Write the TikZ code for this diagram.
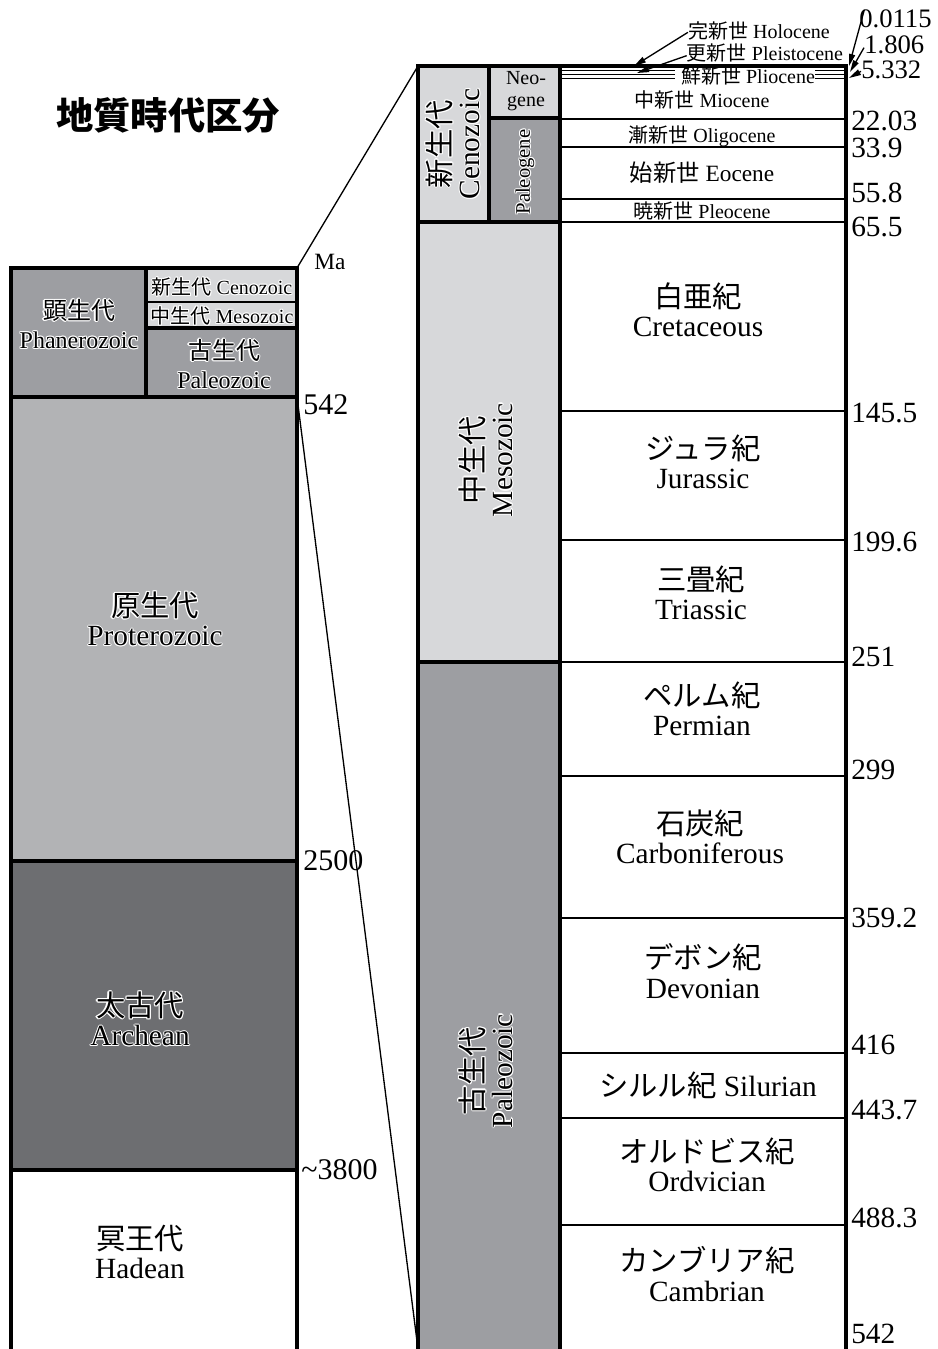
\documentclass[tikz,border=0pt]{standalone}
\usepackage{fontspec}
\setmainfont{Liberation Serif}
\newfontfamily\cjk{Noto Sans CJK JP}
\usetikzlibrary{arrows.meta}
\definecolor{lightg}{HTML}{D7D8DA}
\definecolor{midg}{HTML}{9D9EA2}
\definecolor{protg}{HTML}{B2B3B5}
\definecolor{darkg}{HTML}{6D6E71}
\newcommand\J[1]{{\cjk #1}}
\newcommand\fs[2]{\fontsize{#1}{#2}\selectfont}
\newcommand\halotext[1]{{\setbox0\hbox{#1}%
 \rlap{\color{white}\kern.8pt\copy0}\rlap{\color{white}\kern-.8pt\copy0}%
 \rlap{\color{white}\raise.8pt\copy0}\rlap{\color{white}\lower.8pt\copy0}%
 \rlap{\color{white}\kern.55pt\raise.55pt\copy0}\rlap{\color{white}\kern-.55pt\raise.55pt\copy0}%
 \rlap{\color{white}\kern.55pt\lower.55pt\copy0}\rlap{\color{white}\kern-.55pt\lower.55pt\copy0}%
 \box0}}
\begin{document}
\begin{tikzpicture}[x=0.75pt,y=-0.75pt,
  bord/.style={line width=2.6pt},
  sepline/.style={line width=1pt},
  zoomline/.style={line width=1pt},
  lbl/.style={align=center,inner sep=0pt},
  big/.style={lbl,font=\fs{22}{22}},
  small/.style={lbl,font=\fs{15}{16}},
  num/.style={anchor=west,inner sep=0pt,font=\fs{22}{22}},
  snum/.style={anchor=west,inner sep=0pt,font=\fs{20}{20}},
  arr/.style={line width=1pt,-{Triangle[length=9pt,width=4.5pt]}},
]
\useasboundingbox (0,0) rectangle (938,1349);
\clip (0,0) rectangle (938,1349);
% ---------- title
\node[lbl,font=\cjk\bfseries\fs{28}{28}] (title) at (168,115) {地質時代区分};
% ---------- left column fills
\fill[midg] (11,268) rectangle (146,397);
\fill[lightg] (146,268) rectangle (297,302);
\fill[lightg] (146,302) rectangle (297,328);
\fill[midg] (146,328) rectangle (297,397);
\fill[protg] (11,397) rectangle (297,861);
\fill[darkg] (11,861) rectangle (297,1170);
\fill[white] (11,1170) rectangle (297,1355);
\draw[sepline] (146,302) -- (297,302);
\draw[bord] (11,268) rectangle (297,1355);
\draw[bord] (146,268) -- (146,397);
\draw[bord] (146,328) -- (297,328);
\draw[bord] (11,397) -- (297,397);
\draw[bord] (11,861) -- (297,861);
\draw[bord] (11,1170) -- (297,1170);
% left labels
\node[lbl,font=\fs{18}{22}] (phan) at (79,324) {\halotext{\J{顕生代}}\\\halotext{Phanerozoic}};
\node[small] (lceno) at (222,287) {\halotext{\J{新生代} Cenozoic}};
\node[small] (lmeso) at (222,316) {\halotext{\J{中生代} Mesozoic}};
\node[lbl,font=\fs{18}{22}] (lpaleo) at (224,364) {\halotext{\J{古生代}}\\\halotext{Paleozoic}};
\node[big] (prot) at (155,619) {\halotext{\J{原生代}}\\\halotext{Proterozoic}};
\node[big] (arch) at (140,1019) {\halotext{\J{太古代}}\\\halotext{Archean}};
\node[big] (hade) at (140,1252) {\J{冥王代}\\Hadean};
\node[lbl,font=\fs{17.5}{17.5}] (ma) at (330,262) {Ma};
\node[num,font=\fs{22.5}{22.5}] (l542) at (303,405) {542};
\node[num,font=\fs{22.5}{22.5}] (l2500) at (303,861) {2500};
\node[num,font=\fs{22.5}{22.5}] (l3800) at (301,1170) {\string~3800};
% zoom lines
\coordinate (lt) at (297,268);
\coordinate (rt) at (418,66);
\coordinate (lb) at (297,397);
\coordinate (rb) at (418,1349);
\draw[zoomline] (lt) -- (rt);
\draw[zoomline] (lb) -- (rb);
% ---------- right column fills
\fill[lightg] (418,66) rectangle (489,222);
\fill[lightg] (489,66) rectangle (560,118);
\fill[midg] (489,118) rectangle (560,222);
\fill[lightg] (418,222) rectangle (560,662);
\fill[midg] (418,662) rectangle (560,1355);
\fill[white] (560,66) rectangle (846,1355);
% epoch thin lines (broken by the Pliocene label)
\foreach \yy in {70.5,74.5,78.5}{
  \draw[line width=0.9pt] (560,\yy) -- (675,\yy);
  \draw[line width=0.9pt] (815,\yy) -- (846,\yy);
}
\foreach \yy in {119,147,199,222,411,540,662,776,918,1053,1118,1225}{
  \draw[sepline] (560,\yy) -- (846,\yy);
}
\draw[bord] (418,66) rectangle (846,1355);
\draw[bord] (560,66) -- (560,1355);
\draw[bord] (489,66) -- (489,222);
\draw[bord] (489,118) -- (560,118);
\draw[bord] (418,222) -- (560,222);
\draw[bord] (418,662) -- (560,662);
% era labels
\node[big,rotate=90] (ceno) at (453,144) {\halotext{\J{新生代}}\\\halotext{Cenozoic}};
\node[small] (neo) at (526,91) {Neo-\\gene};
\node[lbl,font=\fs{15.5}{16},rotate=90] (paleog) at (525,172) {\halotext{Paleogene}};
\node[big,rotate=90] (meso) at (486,460) {\halotext{\J{中生代}}\\\halotext{Mesozoic}};
\node[big,rotate=90] (paleoz) at (486,1071) {\halotext{\J{古生代}}\\\halotext{Paleozoic}};
% epoch labels
\node[small] (holo) at (759,31) {\J{完新世} Holocene};
\node[small] (pleis) at (765,53) {\J{更新世} Pleistocene};
\node[small] (plio) at (748,76) {\J{鮮新世} Pliocene};
\node[small] (mio) at (702,100) {\J{中新世} Miocene};
\node[small] (oligo) at (702,136) {\J{漸新世} Oligocene};
\node[lbl,font=\fs{17.5}{18}] (eo) at (702,173) {\J{始新世} Eocene};
\node[small] (paleoc) at (702,211) {\J{暁新世} Pleocene};
% period labels
\node[big] (cret) at (698,310) {\J{白亜紀}\\Cretaceous};
\node[big] (jura) at (703,462) {\J{ジュラ紀}\\Jurassic};
\node[big] (tria) at (701,593) {\J{三畳紀}\\Triassic};
\node[big] (perm) at (702,709) {\J{ペルム紀}\\Permian};
\node[big] (carb) at (700,837) {\J{石炭紀}\\Carboniferous};
\node[big] (devo) at (703,971) {\J{デボン紀}\\Devonian};
\node[big] (silu) at (708,1085) {\J{シルル紀} Silurian};
\node[big] (ordo) at (707,1165) {\J{オルドビス紀}\\Ordvician};
\node[big] (camb) at (707,1274) {\J{カンブリア紀}\\Cambrian};
% numbers
\node[snum] (n0115) at (859,19) {0.0115};
\node[snum] (n1806) at (864,45) {1.806};
\node[snum] (n5332) at (861,70) {5.332};
\node[num] (n2203) at (851,121) {22.03};
\node[num] (n339) at (851,148) {33.9};
\node[num] (n558) at (851,193) {55.8};
\node[num] (n655) at (851,227) {65.5};
\node[num] (n1455) at (851,413) {145.5};
\node[num] (n1996) at (851,542) {199.6};
\node[num] (n251) at (851,657) {251};
\node[num] (n299) at (851,770) {299};
\node[num] (n3592) at (851,918) {359.2};
\node[num] (n416) at (851,1045) {416};
\node[num] (n4437) at (851,1110) {443.7};
\node[num] (n4883) at (851,1218) {488.3};
\node[num] (n542) at (851,1334) {542};
% arrows
\coordinate (t0115) at (849,66);
\coordinate (t1806) at (850,72);
\coordinate (t5332) at (849,78);
\coordinate (tholo) at (634,66);
\coordinate (tpleis) at (637,73);
\draw[arr] ([xshift=4pt]n0115.north west) -- (t0115);
\draw[arr] ([yshift=-2pt]n1806.west) -- (t1806);
\draw[arr] ([yshift=-1pt]n5332.west) -- (t5332);
\draw[arr] ([yshift=-1pt]holo.west) -- (tholo);
\draw[arr] ([yshift=-2pt]pleis.west) -- (tpleis);
\end{tikzpicture}
\end{document}
